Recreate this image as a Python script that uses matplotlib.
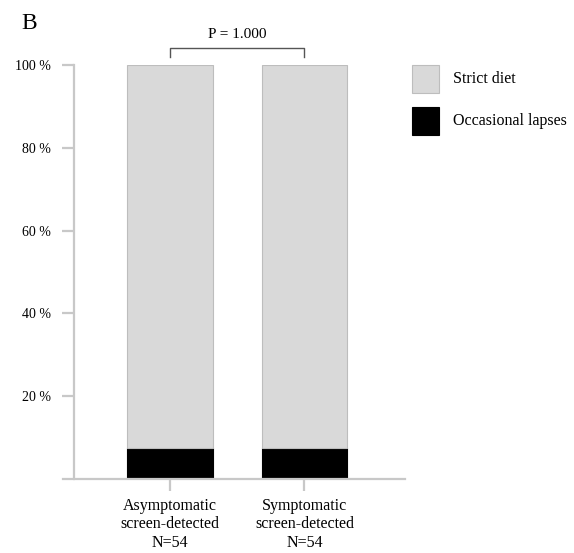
import matplotlib.pyplot as plt
from matplotlib.patches import Rectangle

plt.rcParams['font.family'] = ['Liberation Serif', 'DejaVu Serif']

groups = ['Asymptomatic\nscreen-detected\nN=54', 'Symptomatic\nscreen-detected\nN=54']
lapses = [7.4, 7.4]
strict = [92.6, 92.6]
yticks = [20, 40, 60, 80, 100]
ytick_labels = ['20 %', '40 %', '60 %', '80 %', '100 %']
p_text = 'P = 1.000'

axis_col = '#c8c8c8'
grey = '#d9d9d9'

fig = plt.figure(figsize=(5.74, 5.53), dpi=100)
ax = fig.add_axes([0.1098, 0.1338, 0.5958, 0.7487])

x = [0, 1]
ax.bar(x, lapses, width=0.64, color='black', edgecolor='black', linewidth=0.8)
ax.bar(x, strict, bottom=lapses, width=0.64, color=grey, edgecolor='#bdbdbd', linewidth=0.8)

ax.set_xlim(-0.80, 1.75)
ax.set_ylim(0, 100)
ax.set_xticks(x)
ax.set_xticklabels(groups, fontsize=11.5, linespacing=1.2)
ax.set_yticks(yticks)
ax.set_yticklabels(ytick_labels, fontsize=11.5)

for s in ['top', 'right']:
    ax.spines[s].set_visible(False)
ax.spines['left'].set_position(('data', -0.716))
for s in ['left', 'bottom']:
    ax.spines[s].set_color(axis_col)
    ax.spines[s].set_linewidth(1.6)
ax.tick_params(axis='both', color=axis_col, width=1.6, length=8.5)
ax.tick_params(axis='y', pad=8)
ax.tick_params(axis='x', pad=5)

# significance bracket
ax.plot([0, 0, 1, 1], [102, 104, 104, 102], color='#555555', lw=1.0, clip_on=False)
ax.text(0.5, 107.3, p_text, ha='center', va='center', fontsize=11)

fig.text(0.038, 0.958, 'B', fontsize=17, ha='left', va='center')

# legend
for i, (lab, col, ec) in enumerate([('Strict diet', grey, '#bdbdbd'), ('Occasional lapses', 'black', 'black')]):
    yc = 79 + i * 42
    fig.patches.append(Rectangle((412 / 574, 1 - (yc + 14) / 553), 27 / 574, 28 / 553,
                                 facecolor=col, edgecolor=ec, lw=0.8, transform=fig.transFigure))
    fig.text(453 / 574, 1 - yc / 553, lab, fontsize=11.5, ha='left', va='center')

fig.savefig('out.png', dpi=100)
